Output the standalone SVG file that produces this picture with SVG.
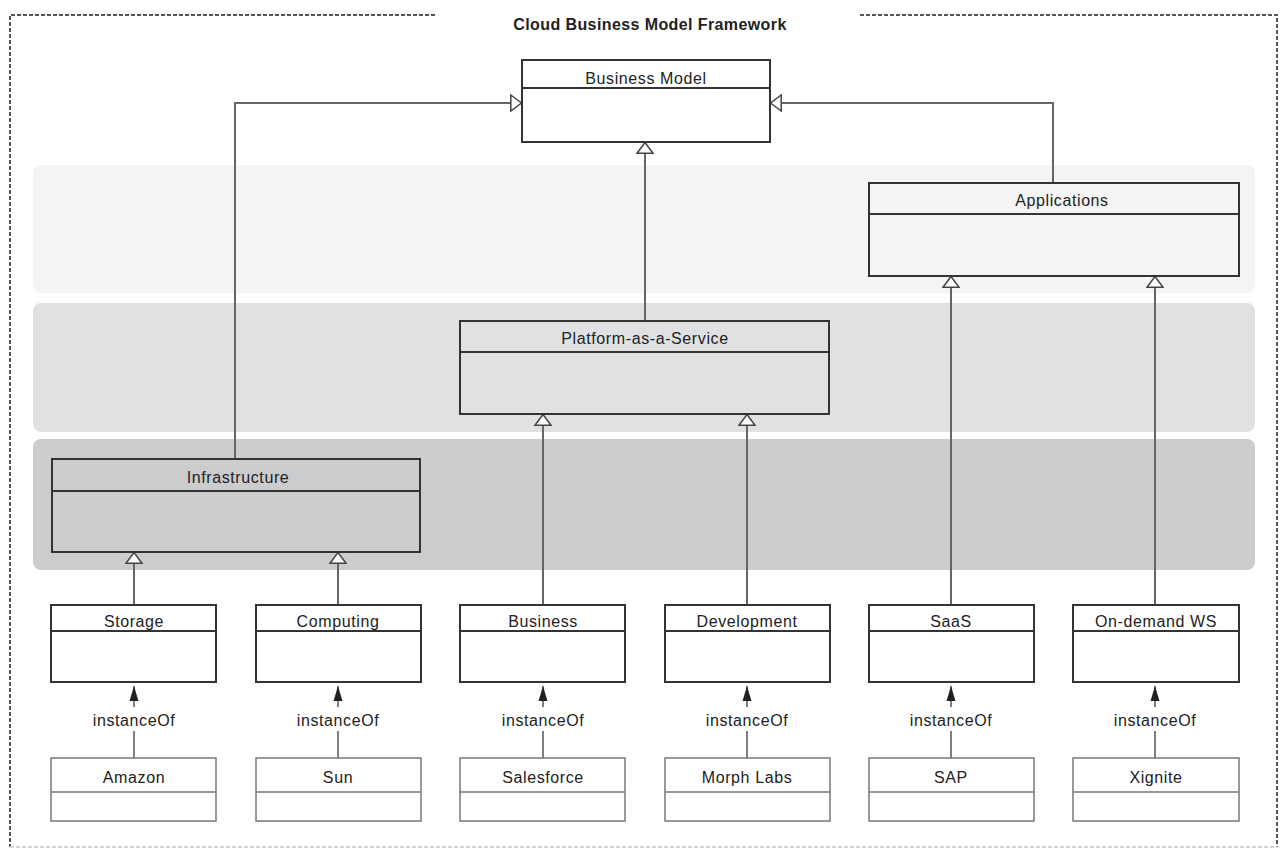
<svg xmlns="http://www.w3.org/2000/svg" width="1282" height="855" viewBox="0 0 1282 855">
<style>
.frame{fill:none;stroke:#555;stroke-width:2;stroke-dasharray:4,2}
.framefaint{fill:none;stroke:#d4d4d4;stroke-width:2;stroke-dasharray:4,2}
.band{stroke:none}
.cls{fill:none;stroke:#333;stroke-width:2}
.clsw{fill:#fff;stroke:#333;stroke-width:2}
.inst{fill:#fff;stroke:#777;stroke-width:1.5}
.div{stroke:#333;stroke-width:2}
.divi{stroke:#777;stroke-width:1.5}
.con{fill:none;stroke:#666;stroke-width:2}
.inl{fill:none;stroke:#555;stroke-width:1.5}
text{font-family:"Liberation Sans",Arial,sans-serif;font-size:16px;letter-spacing:0.6px;fill:#222;text-anchor:middle}
.title{font-weight:bold;font-size:16px;letter-spacing:0.4px}
</style>
<defs>
<marker id="gen" viewBox="0 0 12 18" refX="12" refY="9" markerWidth="12" markerHeight="18" markerUnits="userSpaceOnUse" orient="auto">
<path d="M0.8,1 L11.5,9 L0.8,17 Z" fill="#fff" stroke="#444" stroke-width="1.5"/>
</marker>
<marker id="inst" viewBox="0 0 15 10" refX="15" refY="5" markerWidth="15" markerHeight="10" markerUnits="userSpaceOnUse" orient="auto">
<path d="M0,0.5 L15,5 L0,9.5 Z" fill="#222"/>
</marker>
</defs>
<rect width="1282" height="855" fill="#fff"/>
<g id="frame">
<path class="frame" d="M435,15 L10,15 L10,847"/>
<path class="frame" d="M860,15 L1277,15 L1277,847"/>
<path class="framefaint" d="M10,847 L1277,847"/>
<text class="title" x="650" y="30">Cloud Business Model Framework</text>
</g>
<g id="bands">
<rect class="band" x="33" y="165" width="1222" height="128" rx="8" fill="#f4f4f4"/>
<rect class="band" x="33" y="303" width="1222" height="129" rx="8" fill="#e0e1e3"/>
<rect class="band" x="33" y="439" width="1222" height="131" rx="8" fill="#cbccce"/>
</g>
<g id="connectors">
<path class="con" d="M235,459 L235,103 L522,103" marker-end="url(#gen)"/>
<path class="con" d="M1053,183 L1053,103 L770,103" marker-end="url(#gen)"/>
<path class="con" d="M645,321 L645,142" marker-end="url(#gen)"/>
<path class="con" d="M951,605 L951,276" marker-end="url(#gen)"/>
<path class="con" d="M1155,605 L1155,276" marker-end="url(#gen)"/>
<path class="con" d="M543,605 L543,414" marker-end="url(#gen)"/>
<path class="con" d="M747,605 L747,414" marker-end="url(#gen)"/>
<path class="con" d="M134,605 L134,552" marker-end="url(#gen)"/>
<path class="con" d="M338,605 L338,552" marker-end="url(#gen)"/>
<g id="instanceOf">
<path class="inl" d="M134,707 L134,686" marker-end="url(#inst)"/><path class="inl" d="M134,731 L134,758"/><text x="134" y="726">instanceOf</text>
<path class="inl" d="M338,707 L338,686" marker-end="url(#inst)"/><path class="inl" d="M338,731 L338,758"/><text x="338" y="726">instanceOf</text>
<path class="inl" d="M543,707 L543,686" marker-end="url(#inst)"/><path class="inl" d="M543,731 L543,758"/><text x="543" y="726">instanceOf</text>
<path class="inl" d="M747,707 L747,686" marker-end="url(#inst)"/><path class="inl" d="M747,731 L747,758"/><text x="747" y="726">instanceOf</text>
<path class="inl" d="M951,707 L951,686" marker-end="url(#inst)"/><path class="inl" d="M951,731 L951,758"/><text x="951" y="726">instanceOf</text>
<path class="inl" d="M1155,707 L1155,686" marker-end="url(#inst)"/><path class="inl" d="M1155,731 L1155,758"/><text x="1155" y="726">instanceOf</text>
</g>
</g>
<g id="business-model"><rect class="clsw" x="522" y="60" width="248" height="82"/><line class="div" x1="522" y1="88" x2="770" y2="88"/><text x="646" y="84">Business Model</text></g>
<g id="applications"><rect class="cls" x="869" y="183" width="370" height="93"/><line class="div" x1="869" y1="214" x2="1239" y2="214"/><text x="1062" y="206">Applications</text></g>
<g id="paas"><rect class="cls" x="460" y="321" width="369" height="93"/><line class="div" x1="460" y1="352" x2="829" y2="352"/><text x="645" y="344">Platform-as-a-Service</text></g>
<g id="infrastructure"><rect class="cls" x="52" y="459" width="368" height="93"/><line class="div" x1="52" y1="491" x2="420" y2="491"/><text x="238" y="483">Infrastructure</text></g>
<g id="storage"><rect class="clsw" x="51" y="605" width="165" height="77"/><line class="div" x1="51" y1="631" x2="216" y2="631"/><text x="134" y="627">Storage</text></g>
<g id="computing"><rect class="clsw" x="256" y="605" width="165" height="77"/><line class="div" x1="256" y1="631" x2="421" y2="631"/><text x="338" y="627">Computing</text></g>
<g id="business"><rect class="clsw" x="460" y="605" width="165" height="77"/><line class="div" x1="460" y1="631" x2="625" y2="631"/><text x="543" y="627">Business</text></g>
<g id="development"><rect class="clsw" x="665" y="605" width="165" height="77"/><line class="div" x1="665" y1="631" x2="830" y2="631"/><text x="747" y="627">Development</text></g>
<g id="saas"><rect class="clsw" x="869" y="605" width="165" height="77"/><line class="div" x1="869" y1="631" x2="1034" y2="631"/><text x="951" y="627">SaaS</text></g>
<g id="ondemand"><rect class="clsw" x="1073" y="605" width="166" height="77"/><line class="div" x1="1073" y1="631" x2="1239" y2="631"/><text x="1156" y="627">On-demand WS</text></g>
<g id="amazon"><rect class="inst" x="51" y="758" width="165" height="63"/><line class="divi" x1="51" y1="792" x2="216" y2="792"/><text x="134" y="783">Amazon</text></g>
<g id="sun"><rect class="inst" x="256" y="758" width="165" height="63"/><line class="divi" x1="256" y1="792" x2="421" y2="792"/><text x="338" y="783">Sun</text></g>
<g id="salesforce"><rect class="inst" x="460" y="758" width="165" height="63"/><line class="divi" x1="460" y1="792" x2="625" y2="792"/><text x="543" y="783">Salesforce</text></g>
<g id="morphlabs"><rect class="inst" x="665" y="758" width="165" height="63"/><line class="divi" x1="665" y1="792" x2="830" y2="792"/><text x="747" y="783">Morph Labs</text></g>
<g id="sap"><rect class="inst" x="869" y="758" width="165" height="63"/><line class="divi" x1="869" y1="792" x2="1034" y2="792"/><text x="951" y="783">SAP</text></g>
<g id="xignite"><rect class="inst" x="1073" y="758" width="166" height="63"/><line class="divi" x1="1073" y1="792" x2="1239" y2="792"/><text x="1156" y="783">Xignite</text></g>
</svg>
